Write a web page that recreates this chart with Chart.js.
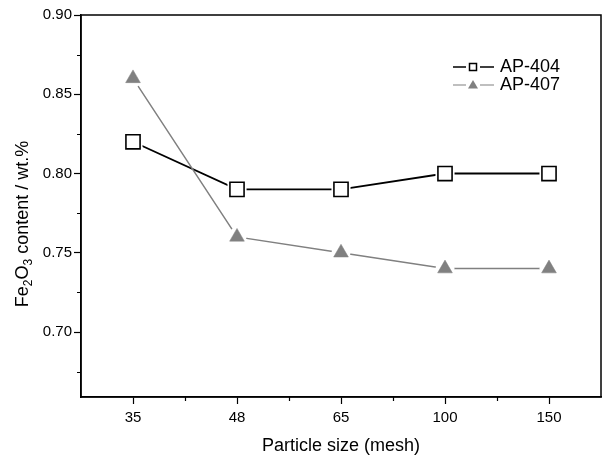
<!DOCTYPE html>
<html><head><meta charset="utf-8">
<script src="https://cdn.jsdelivr.net/npm/chart.js@4"></script>
<style>html,body{margin:0;padding:0;background:#fff}canvas{display:block}</style>
</head><body>
<canvas id="c" width="602" height="457"></canvas>
<script>
const categories = ['35','48','65','100','150'];
const ap404 = [0.82, 0.79, 0.79, 0.80, 0.80];
const ap407 = [0.86, 0.76, 0.75, 0.74, 0.74];
const yTicks = [0.70, 0.75, 0.80, 0.85, 0.90];
const seriesNames = ['AP-404', 'AP-407'];
const xTitle = 'Particle size (mesh)';

const FONT = '"Liberation Sans", Arial, sans-serif';
const BLACK = '#000', GRAY = '#808080';

const framePlugin = {
  id: 'frame',
  afterDraw(chart) {
    const {ctx, chartArea: a, scales: {x, y}} = chart;
    ctx.save();
    ctx.strokeStyle = BLACK; ctx.lineWidth = 1.5;
    ctx.strokeRect(a.left, a.top, a.right - a.left, a.bottom - a.top);
    // minor ticks
    ctx.lineWidth = 1.2;
    ctx.beginPath();
    for (let i = 0; i < yTicks.length; i++) {
      const v = yTicks[i] - 0.025;
      const py = Math.round(y.getPixelForValue(v)) + 0.5;
      if (py < a.bottom - 1) { ctx.moveTo(a.left - 4, py); ctx.lineTo(a.left, py); }
    }
    for (let i = 0; i < categories.length - 1; i++) {
      const px = Math.round(x.getPixelForValue(i + 0.5)) + 0.5;
      ctx.moveTo(px, a.bottom); ctx.lineTo(px, a.bottom + 4);
    }
    ctx.stroke();
    // y title with subscripts
    ctx.fillStyle = BLACK;
    ctx.translate(28, 224);
    ctx.rotate(-Math.PI / 2);
    const parts = [['Fe',0],['2',1],['O',0],['3',1],[' content / wt.%',0]];
    let total = 0;
    for (const [t, s] of parts) { ctx.font = (s ? '12px ' : '18px ') + FONT; total += ctx.measureText(t).width; }
    let cx = -total / 2;
    ctx.textBaseline = 'alphabetic';
    for (const [t, s] of parts) {
      ctx.font = (s ? '12px ' : '18px ') + FONT;
      ctx.fillText(t, cx, s ? 4 : 0);
      cx += ctx.measureText(t).width;
    }
    ctx.restore();
    // legend
    ctx.save();
    const rows = [
      {name: seriesNames[0], color: BLACK, lw: 1.5, style: 'rect', y: 67},
      {name: seriesNames[1], color: GRAY, lw: 1.2, style: 'triangle', y: 85}
    ];
    for (const r of rows) {
      ctx.strokeStyle = r.color; ctx.lineWidth = r.lw;
      ctx.beginPath(); ctx.moveTo(453, r.y); ctx.lineTo(466, r.y); ctx.moveTo(480, r.y); ctx.lineTo(494, r.y); ctx.stroke();
      if (r.style === 'rect') {
        ctx.fillStyle = '#fff';
        ctx.fillRect(469.5, r.y - 3.5, 7, 7);
        ctx.strokeRect(469.5, r.y - 3.5, 7, 7);
      } else {
        ctx.fillStyle = r.color;
        ctx.beginPath(); ctx.moveTo(473, r.y - 5); ctx.lineTo(478, r.y + 3.5); ctx.lineTo(468, r.y + 3.5); ctx.closePath(); ctx.fill();
      }
      ctx.fillStyle = BLACK; ctx.font = '18px ' + FONT; ctx.textBaseline = 'middle';
      ctx.fillText(r.name, 500, r.y + 0.5);
    }
    ctx.restore();
  }
};

new Chart(document.getElementById('c'), {
  type: 'line',
  data: {
    labels: categories,
    datasets: [
      {label: seriesNames[0] + ' line', data: ap404, borderColor: BLACK, borderWidth: 1.8, pointRadius: 0, order: 6, fill: false},
      {label: seriesNames[1] + ' line', data: ap407, borderColor: GRAY, borderWidth: 1.5, pointRadius: 0, order: 5, fill: false},
      {label: 'halo1', data: ap404, showLine: false, pointStyle: 'rect', pointRadius: 13.5, pointBackgroundColor: '#fff', pointBorderWidth: 0, pointBorderColor: '#fff', order: 4},
      {label: 'halo2', data: ap407, showLine: false, pointStyle: 'circle', pointRadius: 9.5, pointBackgroundColor: '#fff', pointBorderWidth: 0, pointBorderColor: '#fff', order: 3},
      {label: seriesNames[0], data: ap404, showLine: false, pointStyle: 'rect', pointRadius: 10, pointBackgroundColor: '#fff', pointBorderColor: BLACK, pointBorderWidth: 1.6, order: 2},
      {label: seriesNames[1], data: ap407, showLine: false, pointStyle: 'triangle', pointRadius: 8.5, pointBackgroundColor: GRAY, pointBorderColor: GRAY, pointBorderWidth: 0.5, order: 1}
    ]
  },
  options: {
    responsive: false,
    animation: false,
    layout: {autoPadding: false, padding: {top: 15, right: 1, left: 0, bottom: 0}},
    plugins: {legend: {display: false}, tooltip: {enabled: false}},
    scales: {
      x: {
        type: 'category',
        offset: true,
        grid: {display: true, drawOnChartArea: false, drawTicks: true, tickLength: 7, offset: false, color: BLACK, tickWidth: 1.2},
        border: {display: true, color: BLACK, width: 1.5},
        ticks: {color: BLACK, font: {family: FONT, size: 15}, padding: 5, maxRotation: 0},
        title: {display: true, text: xTitle, color: BLACK, font: {family: FONT, size: 18}, padding: {top: 6, bottom: 0}},
        afterFit(s) { s.height = 60; s.paddingLeft = 0; s.paddingRight = 0; }
      },
      y: {
        min: 0.659, max: 0.90,
        afterBuildTicks(s) { s.ticks = yTicks.map(v => ({value: v})); },
        grid: {display: true, drawOnChartArea: false, drawTicks: true, tickLength: 7, color: BLACK, tickWidth: 1.2},
        border: {display: true, color: BLACK, width: 1.5},
        ticks: {color: BLACK, font: {family: FONT, size: 15}, padding: 2, callback: v => Number(v).toFixed(2)},
        afterFit(s) { s.width = 81; s.paddingTop = 0; s.paddingBottom = 0; }
      }
    }
  },
  plugins: [framePlugin]
});
</script>
</body></html>
